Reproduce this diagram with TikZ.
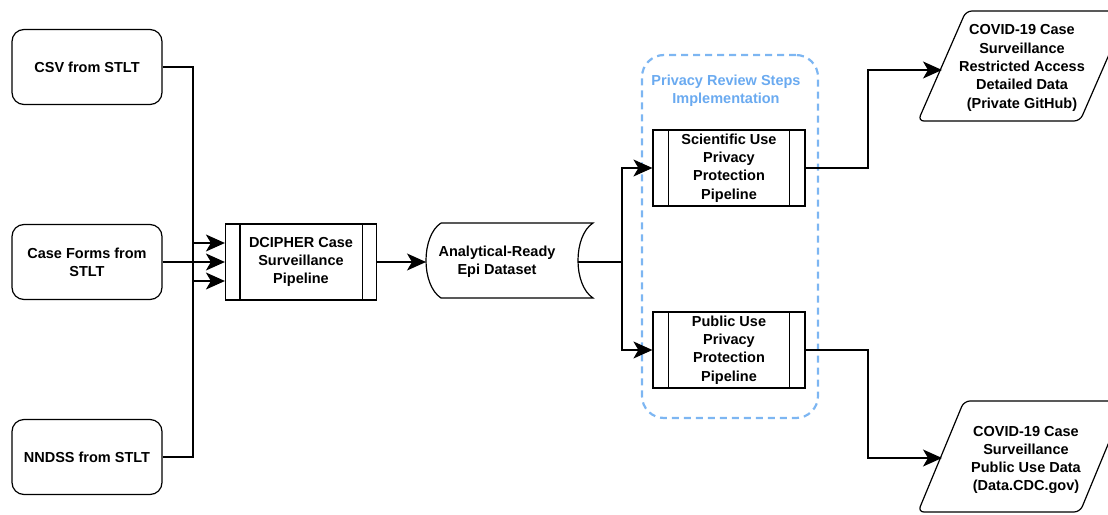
\documentclass[tikz,border=0pt]{standalone}
\usepackage{fontspec}
\setmainfont{Liberation Sans}
\usetikzlibrary{arrows.meta}
\definecolor{dashblue}{HTML}{7DB6F2}
\definecolor{titleblue}{HTML}{6AAAF0}
\begin{document}
\begin{tikzpicture}[x=1pt,y=-1pt,
  lbl/.style={font=\bfseries\fontsize{14.5}{18.3}\selectfont,align=center,inner sep=0pt},
  rbox/.style={draw,line width=1.2pt,rounded corners=12pt,minimum width=150pt,minimum height=75pt,lbl},
  procbox/.style={draw,line width=1.2pt,minimum width=151pt,minimum height=76pt,lbl},
  conn/.style={line width=1.2pt,arrows={-Stealth[length=19pt,width=17pt,inset=5pt]}},
  plain/.style={line width=1.2pt}]
\useasboundingbox (0,0) rectangle (1108,514);

% container
\node[draw=dashblue,line width=2.2pt,dash pattern=on 7pt off 5pt,rounded corners=22pt,minimum width=176pt,minimum height=363pt,inner sep=0pt] (grp) at (730,236.5) {};
\node[lbl,text=titleblue] (grptitle) at (726,91) {Privacy Review Steps\\Implementation};

% left sources
\node[rbox] (csv) at (87,67) {CSV from STLT};
\node[rbox] (forms) at (87,262) {Case Forms from\\STLT};
\node[rbox] (nndss) at (87,457) {NNDSS from STLT};

% DCIPHER
\node[procbox] (dci) at (301,262) {DCIPHER Case\\Surveillance\\Pipeline};
\draw[line width=1.2pt] ([xshift=15pt]dci.north west) -- ([xshift=15pt]dci.south west)
  ([xshift=-15pt]dci.north east) -- ([xshift=-15pt]dci.south east);

% stored data
\draw[line width=1.2pt] (441,223) -- (593,223) .. controls (573,236) and (573,285) .. (593,298)
  -- (441,298) .. controls (421,285) and (421,236) .. (441,223);
\node[lbl] (ana) at (497,262) {Analytical-Ready\\Epi Dataset};
\coordinate (anaL) at (426,262);
\coordinate (anaR) at (578,262);

% privacy pipelines
\node[procbox,minimum width=152pt] (sci) at (729,168) {Scientific Use\\Privacy\\Protection\\Pipeline};
\node[procbox,minimum width=152pt] (pub) at (729,350) {Public Use\\Privacy\\Protection\\Pipeline};
\foreach \n in {sci,pub}{
  \draw[line width=1.2pt] ([xshift=16pt]\n.north west) -- ([xshift=16pt]\n.south west)
    ([xshift=-16pt]\n.north east) -- ([xshift=-16pt]\n.south east);
}

% outputs (parallelograms)
\draw[line width=1.2pt,rounded corners=6pt] (918,121) -- (966,11) -- (1128,11) -- (1080,121) -- cycle;
\node[lbl] (restr) at (1022,68) {COVID-19 Case\\Surveillance\\Restricted Access\\Detailed Data\\(Private GitHub)};
\coordinate (restrL) at (942,70);
\draw[line width=1.2pt,rounded corners=6pt] (918,512) -- (964,401) -- (1126,401) -- (1080,512) -- cycle;
\node[lbl] (pubdata) at (1026,460) {COVID-19 Case\\Surveillance\\Public Use Data\\(Data.CDC.gov)};
\coordinate (pubdataL) at (942,458);

% connectors
\draw[conn] (csv.east) -- (193,67) |- ([yshift=-19pt]dci.west);
\draw[conn] (forms.east) -- (dci.west);
\draw[conn] (nndss.east) -- (193,457) |- ([yshift=19pt]dci.west);
\draw[conn] (dci.east) -- (anaL);
\draw[plain] (anaR) -- (622,262);
\draw[conn] (622,262) |- (sci.west);
\draw[conn] (622,262) |- (pub.west);
\draw[conn] (sci.east) -- (868,168) |- (restrL);
\draw[conn] (pub.east) -- (868,350) |- (pubdataL);
\end{tikzpicture}
\end{document}
